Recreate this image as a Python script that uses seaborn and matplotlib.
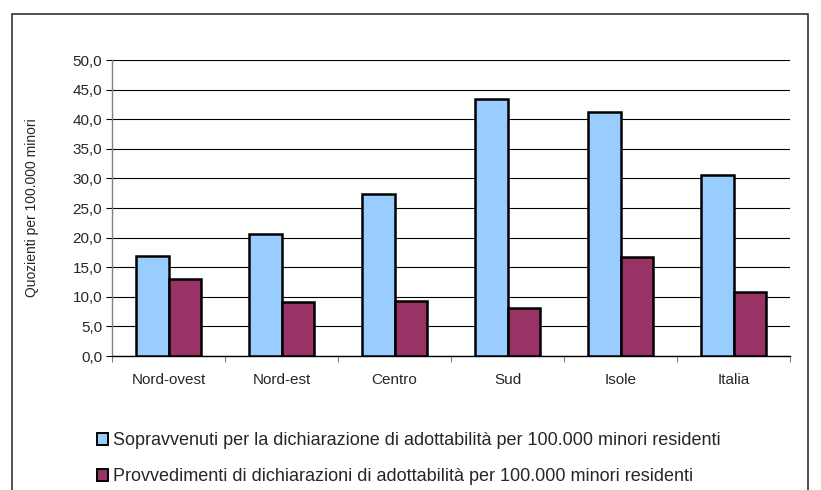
import pandas as pd
import matplotlib
matplotlib.use("Agg")
import matplotlib.pyplot as plt
import seaborn as sns
from matplotlib.ticker import FuncFormatter, MultipleLocator, FixedLocator
from matplotlib.patches import Rectangle, Patch

# Data
regioni = ["Nord-ovest", "Nord-est", "Centro", "Sud", "Isole", "Italia"]
sopravvenuti = [16.9, 20.6, 27.3, 43.4, 41.2, 30.6]
provvedimenti = [13.0, 9.1, 9.3, 8.1, 16.7, 10.8]
serie = [
    "Sopravvenuti per la dichiarazione di adottabilità per 100.000 minori residenti",
    "Provvedimenti di dichiarazioni di adottabilità per 100.000 minori residenti",
]
colori = ["#99CCFF", "#993366"]

df = pd.DataFrame({
    "regione": regioni * 2,
    "valore": sopravvenuti + provvedimenti,
    "serie": [serie[0]] * len(regioni) + [serie[1]] * len(regioni),
})

sns.set_style("white")
plt.rcParams["font.family"] = ["Liberation Sans", "DejaVu Sans"]

fig = plt.figure(figsize=(8.21, 4.90), dpi=100)
ax = fig.add_axes([112 / 821, 1 - 356 / 490, (790 - 112) / 821, (356 - 60) / 490])

sns.barplot(data=df, x="regione", y="valore", hue="serie", palette=colori,
            saturation=1, width=0.58, edgecolor="black", linewidth=1.8, ax=ax, zorder=3)

ax.set_ylim(0, 50)
ax.set_xlim(-0.5, len(regioni) - 0.5)
ax.yaxis.set_major_locator(MultipleLocator(5))
ax.yaxis.set_major_formatter(FuncFormatter(lambda v, p: f"{v:.1f}".replace(".", ",")))
ax.grid(axis="y", color="black", linewidth=0.8, zorder=0)
ax.set_axisbelow(True)

ax.set_xlabel("")
ax.set_ylabel("Quozienti per 100.000 minori", fontsize=10, labelpad=24)
ax.tick_params(axis="y", labelsize=11, length=4, width=0.8, color="black", left=True, pad=3)
ax.tick_params(axis="x", which="major", labelsize=11, length=0, pad=12)
ax.xaxis.set_minor_locator(FixedLocator([i + 0.5 for i in range(-1, len(regioni))]))
ax.tick_params(axis="x", which="minor", length=4, width=0.8, color="gray", bottom=True)

for s in ["top", "right"]:
    ax.spines[s].set_visible(False)
ax.spines["left"].set_color("gray")
ax.spines["bottom"].set_color("black")
ax.spines["left"].set_linewidth(1.0)
ax.spines["bottom"].set_linewidth(1.0)

ax.legend_.remove()
handles = [Patch(facecolor=c, edgecolor="black", linewidth=1.4) for c in colori]
fig.legend(handles, serie, loc="upper left", bbox_to_anchor=(90 / 821, 1 - 425 / 490),
           frameon=False, fontsize=13, handlelength=0.6, handleheight=0.6,
           handletextpad=0.25, labelspacing=1.05, borderaxespad=0)

# outer chart border
fig.patches.append(Rectangle((12 / 821, -0.05), (808 - 12) / 821, 1 - 14 / 490 + 0.05,
                             transform=fig.transFigure, fill=False,
                             edgecolor="#333333", linewidth=1.2))

fig.savefig("out.png", dpi=100)
